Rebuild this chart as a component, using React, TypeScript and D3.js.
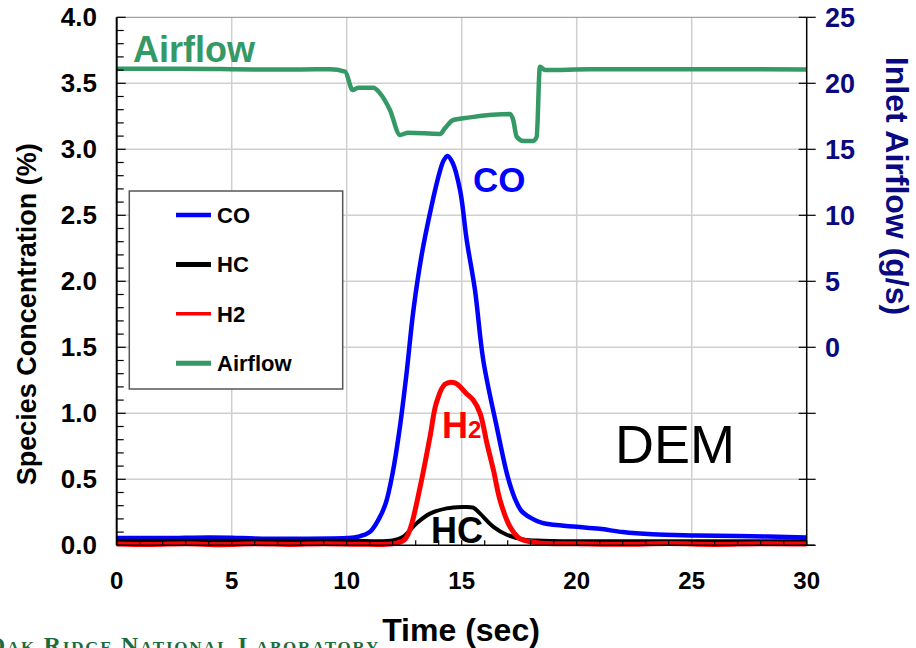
import React from 'react';
import * as d3 from 'd3';

// Axis ticks
const timeTicks = [0, 5, 10, 15, 20, 25, 30];
const concTicks = [0, 0.5, 1, 1.5, 2, 2.5, 3, 3.5, 4];
const concTickLabels = ['0.0', '0.5', '1.0', '1.5', '2.0', '2.5', '3.0', '3.5', '4.0'];
const flowTicks = [25, 20, 15, 10, 5, 0, -5, -10, -15];
const flowTickLabels = ['25', '20', '15', '10', '5', '0', '', '', ''];

// CO concentration (%)
const coTime = [0, 2, 4, 5, 6, 8, 10, 10.5, 11.0, 11.4, 11.7, 12.0, 12.3, 12.6, 12.9, 13.26, 13.7, 14.0, 14.2, 14.38, 14.6, 14.93, 15.22, 15.58, 15.94, 16.52, 17.0, 17.3, 17.6, 17.98, 18.5, 19.0, 20.0, 21.0, 22.0, 23.3, 25, 27, 30];
const coValues = [0.055, 0.055, 0.06, 0.058, 0.052, 0.05, 0.055, 0.065, 0.1, 0.2, 0.32, 0.55, 0.88, 1.3, 1.78, 2.2, 2.58, 2.8, 2.91, 2.95, 2.9, 2.69, 2.31, 1.93, 1.4, 0.9, 0.52, 0.36, 0.26, 0.21, 0.17, 0.155, 0.14, 0.125, 0.1, 0.083, 0.075, 0.07, 0.06];

// HC concentration (%)
const hcTime = [0, 5, 10, 12.0, 12.46, 13.04, 13.62, 14.35, 15.0, 15.5, 15.8, 16.38, 16.96, 17.68, 18.5, 22, 26, 30];
const hcValues = [0.035, 0.035, 0.035, 0.037, 0.065, 0.167, 0.24, 0.28, 0.29, 0.285, 0.24, 0.14, 0.08, 0.045, 0.035, 0.03, 0.03, 0.03];

// H2 concentration (%)
const h2Time = [0, 1.5, 3, 4.5, 6, 7.5, 9, 10.5, 12.0, 12.5, 12.75, 13.19, 13.62, 13.9, 14.27, 14.71, 15.2, 15.5, 15.8, 16.1, 16.38, 16.67, 17.1, 17.53, 18.26, 20, 22, 24, 26, 28, 30];
const h2Values = [0.01, 0.006, 0.012, 0.005, 0.011, 0.007, 0.012, 0.008, 0.012, 0.04, 0.12, 0.44, 0.82, 1.08, 1.22, 1.23, 1.15, 1.1, 1.0, 0.77, 0.57, 0.34, 0.14, 0.05, 0.02, 0.012, 0.008, 0.013, 0.007, 0.012, 0.01];

// Inlet airflow (g/s)
const airTime = [0, 3, 6, 8, 9.27, 9.93, 10.26, 10.5, 11.16, 11.45, 11.88, 12.32, 12.68, 14.06, 14.27, 14.63, 15.36, 17.1, 17.24, 17.39, 17.68, 18.11, 18.26, 18.4, 18.62, 20.6, 25, 30];
const airValues = [21.1, 21.1, 21.05, 21.05, 21.06, 20.88, 19.49, 19.67, 19.67, 19.24, 17.98, 16.09, 16.26, 16.16, 16.59, 17.22, 17.42, 17.67, 17.22, 15.95, 15.63, 15.63, 15.95, 21.26, 21.0, 21.06, 21.06, 21.05];

const legendLabels = ['CO', 'HC', 'H2', 'Airflow'];

const W = 916;
const H = 648;
const left = 116.7;
const right = 806.7;
const top = 17.3;
const bottom = 545.3;

const FONT = 'Liberation Sans, Arial, Helvetica, sans-serif';
const BLUE = '#0000ff';
const RED = '#ff0000';
const GREEN = '#359966';
const NAVY = '#0a0a80';

export default function App() {
  const x = d3.scaleLinear().domain([0, 30]).range([left, right]);
  const y = d3.scaleLinear().domain([0, 4]).range([bottom, top]);
  const yFlow = d3.scaleLinear().domain([-15, 25]).range([bottom, top]);

  const mk = (ts: number[], vs: number[], sc: d3.ScaleLinear<number, number>, curve: d3.CurveFactory) =>
    d3
      .line<number>()
      .x((_, i) => x(ts[i]))
      .y((v) => sc(v))
      .curve(curve)(vs) || '';

  const smooth = d3.curveCatmullRom.alpha(0.5);
  const coPath = mk(coTime, coValues, y, smooth);
  const hcPath = mk(hcTime, hcValues, y, smooth);
  const h2Path = mk(h2Time, h2Values, y, smooth);
  const airPath = mk(airTime, airValues, yFlow, d3.curveMonotoneX);

  const minorX = d3.range(0, 31, 1);
  const minorY = d3.range(0, 4.001, 0.1);

  const legendStyles = [
    { color: BLUE, width: 4.5 },
    { color: '#000', width: 5 },
    { color: RED, width: 3.5 },
    { color: GREEN, width: 5 },
  ];

  return (
    <svg width={W} height={H} style={{ position: 'absolute', left: 0, top: 0, background: '#fff' }} fontFamily={FONT}>
      <rect x={0} y={0} width={W} height={H} fill="#fff" />

      {/* grid */}
      {timeTicks.slice(1, -1).map((t) => (
        <line key={'gx' + t} x1={x(t)} x2={x(t)} y1={top} y2={bottom} stroke="#cfcfcf" strokeWidth={1.5} />
      ))}
      {concTicks.slice(1).map((c) => (
        <line key={'gy' + c} x1={left} x2={right} y1={y(c)} y2={y(c)} stroke={c === 4 ? '#8a8a8a' : '#cfcfcf'} strokeWidth={c === 4 ? 1 : 1.5} />
      ))}

      {/* series */}
      <path d={airPath} fill="none" stroke={GREEN} strokeWidth={4.5} strokeLinejoin="round" />
      <path d={coPath} fill="none" stroke={BLUE} strokeWidth={4.5} strokeLinejoin="round" />
      <path d={hcPath} fill="none" stroke="#000" strokeWidth={4} strokeLinejoin="round" />
      <path d={h2Path} fill="none" stroke={RED} strokeWidth={5} strokeLinejoin="round" />

      {/* left axis */}
      <line x1={left} x2={left} y1={top} y2={bottom} stroke="#000" strokeWidth={2} />
      {minorY.map((c, i) => (
        <line key={'my' + i} x1={left} x2={left + (i % 5 === 0 ? 9 : 7)} y1={y(c)} y2={y(c)} stroke="#000" strokeWidth={1.2} />
      ))}
      {concTicks.map((c, i) => (
        <text key={'ly' + c} x={97} y={y(c) + 9} textAnchor="end" fontSize={26} fontWeight="bold" fill="#000">
          {concTickLabels[i]}
        </text>
      ))}

      {/* bottom axis */}
      <line x1={left} x2={right + 8} y1={bottom} y2={bottom} stroke="#000" strokeWidth={1.5} />
      {minorX.map((t) => (
        <line key={'mx' + t} x1={x(t)} x2={x(t)} y1={bottom} y2={bottom - 5} stroke="#000" strokeWidth={1.2} />
      ))}
      {timeTicks.map((t) => (
        <text key={'lx' + t} x={x(t)} y={589} textAnchor="middle" fontSize={24} fontWeight="bold" fill="#000">
          {t}
        </text>
      ))}

      {/* right axis */}
      <line x1={right} x2={right} y1={top} y2={bottom} stroke="#000" strokeWidth={1.5} />
      {flowTicks.map((f, i) => (
        <g key={'ry' + f}>
          <line x1={right - 8} x2={right + 9} y1={yFlow(f)} y2={yFlow(f)} stroke="#000" strokeWidth={1.2} />
          {flowTickLabels[i] && (
            <text x={825} y={yFlow(f) + 9.5} fontSize={27} fontWeight="bold" fill={NAVY}>
              {flowTickLabels[i]}
            </text>
          )}
        </g>
      ))}

      {/* axis titles */}
      <text transform={`translate(36,${(top + bottom) / 2 + 33}) rotate(-90)`} textAnchor="middle" fontSize={27} fontWeight="bold" fill="#000">
        Species Concentration (%)
      </text>
      <text transform={`translate(886,186) rotate(90)`} textAnchor="middle" fontSize={32} fontWeight="bold" fill={NAVY}>
        Inlet Airflow (g/s)
      </text>
      <text x={461} y={641} textAnchor="middle" fontSize={32} fontWeight="bold" fill="#000">
        Time (sec)
      </text>

      {/* series annotations */}
      <text x={133} y={62} fontSize={36} fontWeight="bold" fill={GREEN}>Airflow</text>
      <text x={473} y={192} fontSize={35} fontWeight="bold" fill={BLUE}>CO</text>
      <text x={442} y={438} fontSize={36} fontWeight="bold" fill={RED}>
        H<tspan fontSize={24}>2</tspan>
      </text>
      <text x={431} y={543} fontSize={36} fontWeight="bold" fill="#000">HC</text>
      <text x={615} y={463} fontSize={54} fill="#000">DEM</text>

      {/* legend */}
      <rect x={129.3} y={191} width={213.4} height={198} fill="#fff" stroke="#555" strokeWidth={1.5} />
      {legendLabels.map((lab, i) => {
        const ly = 215 + i * 49.4;
        return (
          <g key={lab}>
            <line x1={176} x2={211} y1={ly} y2={ly} stroke={legendStyles[i].color} strokeWidth={legendStyles[i].width} />
            <text x={217} y={ly + 8} fontSize={22} fontWeight="bold" fill="#000">{lab}</text>
          </g>
        );
      })}

      {/* footer */}
      <text x={380} y={653} textAnchor="end" fontSize={24} fontWeight="bold" letterSpacing={1.75} fill="#1c6b3c" fontFamily="Liberation Serif, Times New Roman, serif" style={{ fontVariant: 'small-caps' }}>
        Oak Ridge National Laboratory
      </text>
    </svg>
  );
}
